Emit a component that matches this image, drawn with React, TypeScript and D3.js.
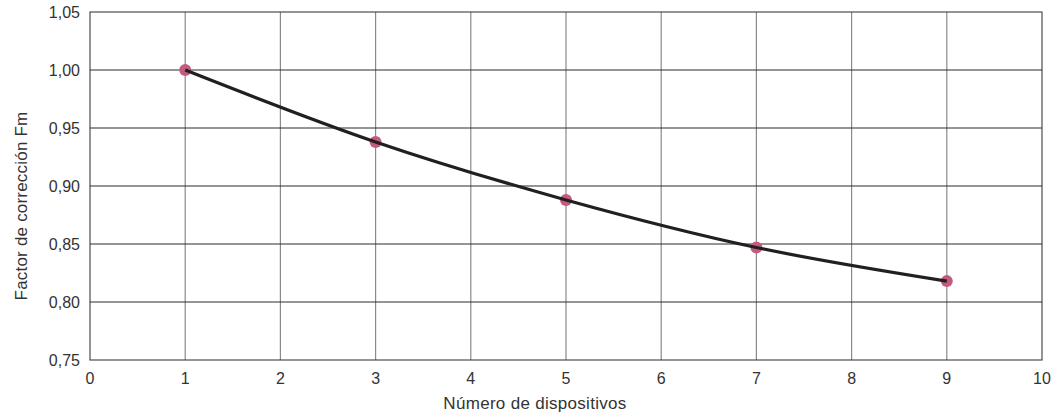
import React from "react";
import * as d3 from "d3";

const xValues = [1, 3, 5, 7, 9];
const yValues = [1.0, 0.938, 0.888, 0.847, 0.818];
const xTicks = [0, 1, 2, 3, 4, 5, 6, 7, 8, 9, 10];
const yTicks = [0.75, 0.8, 0.85, 0.9, 0.95, 1.0, 1.05];
const xTitle = "Número de dispositivos";
const yTitle = "Factor de corrección Fm";

export default function App() {
  const W = 1064, H = 415;
  const m = { left: 90, right: 22, top: 12, bottom: 55 };
  const x = d3.scaleLinear().domain([0, 10]).range([m.left, W - m.right]);
  const y = d3.scaleLinear().domain([0.75, 1.05]).range([H - m.bottom, m.top]);
  const pts = xValues.map((v, i) => [v, yValues[i]] as [number, number]);
  const line = d3.line<[number, number]>().x(d => x(d[0])).y(d => y(d[1])).curve(d3.curveMonotoneX);
  const fmt = (v: number) => v.toFixed(2).replace(".", ",");
  const font = "'Liberation Sans', Arial, sans-serif";
  const fs = 16;
  return (
    <svg width={W} height={H} style={{ position: "absolute", left: 0, top: 0 }} fontFamily={font}>
      <rect x={0} y={0} width={W} height={H} fill="#fff" />
      {xTicks.slice(1, -1).map(t => (
        <line key={"vx" + t} x1={x(t)} x2={x(t)} y1={y(0.75)} y2={y(1.05)} stroke="#8a8a8a" strokeWidth={1.2} />
      ))}
      {yTicks.slice(1, -1).map(t => (
        <line key={"hy" + t} x1={x(0)} x2={x(10)} y1={y(t)} y2={y(t)} stroke="#2a2a2a" strokeWidth={1} />
      ))}
      <rect x={x(0)} y={y(1.05)} width={x(10) - x(0)} height={y(0.75) - y(1.05)} fill="none" stroke="#2a2a2a" strokeWidth={1} />
      {yTicks.map(t => (
        <text key={"yl" + t} x={80} y={y(t)} dy="0.35em" textAnchor="end" fontSize={fs} fill="#333">{fmt(t)}</text>
      ))}
      {xTicks.map(t => (
        <text key={"xl" + t} x={x(t)} y={384} textAnchor="middle" fontSize={fs} fill="#333">{t}</text>
      ))}
      <text x={535} y={409} textAnchor="middle" fontSize={17} letterSpacing={0.3} fill="#333">{xTitle}</text>
      <text transform={`translate(27,206) rotate(-90)`} textAnchor="middle" fontSize={17} letterSpacing={0.2} fill="#333">{yTitle}</text>
      {pts.map((p, i) => (
        <circle key={"c" + i} cx={x(p[0])} cy={y(p[1])} r={6} fill="#c45a7e" />
      ))}
      <path d={line(pts) || ""} fill="none" stroke="#231f20" strokeWidth={3.2} />
    </svg>
  );
}
